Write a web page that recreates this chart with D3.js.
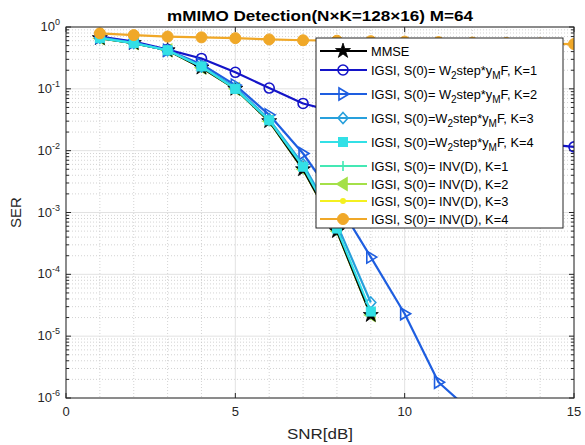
<!DOCTYPE html>
<html><head><meta charset="utf-8">
<script src="https://cdn.jsdelivr.net/npm/d3@7"></script>
<style>body{margin:0;background:#fff;}svg{display:block;font-family:"Liberation Sans",Arial,sans-serif;}</style>
</head><body><svg id="c" width="585" height="445"></svg>
<script>
const snr = [1,2,3,4,5,6,7,8,9,10,11,12,13,14,15];
const mmse   = [0.66,0.55,0.42,0.22,0.100,0.030,0.0050,0.00050,0.000022];
const w2K1   = [0.70,0.58,0.43,0.31,0.185,0.103,0.058,0.042,0.032,0.025,0.020,0.017,0.0145,0.013,0.0115];
const w2K2   = [0.68,0.56,0.42,0.25,0.115,0.038,0.0090,0.0015,0.00019,0.000023,0.0000018,0.00000058];
const w2K3   = [0.67,0.55,0.42,0.23,0.105,0.032,0.0060,0.00065,0.000035];
const w2K4   = [0.66,0.55,0.42,0.23,0.100,0.031,0.0055,0.00055,0.000025];
const invK1  = [0.66,0.55,0.42,0.22,0.100,0.030,0.0050,0.00050,0.000022];
const invK2  = [0.66,0.55,0.42,0.22,0.100,0.030,0.0050,0.00050,0.000022];
const invK3  = [0.66,0.55,0.42,0.22,0.100,0.030,0.0050,0.00050,0.000022];
const invK4  = [0.79,0.74,0.70,0.68,0.66,0.63,0.61,0.60,0.59,0.58,0.57,0.56,0.55,0.54,0.53];
const xTicks = [0,5,10,15];
const yExps = [0,-1,-2,-3,-4,-5,-6];
const titleText = "mMIMO Detection(N\u00d7K=128\u00d716) M=64";

const series = [
  {data:invK1, color:"#44e8b4", marker:"plus"},
  {data:invK2, color:"#a4e048", marker:"ltri"},
  {data:invK3, color:"#f4f020", marker:"dot"},
  {data:mmse, color:"#000000", marker:"star"},
  {data:w2K1, color:"#1414c8", marker:"circle"},
  {data:w2K2, color:"#1e5ee0", marker:"rtri"},
  {data:w2K3, color:"#28a0dc", marker:"diamond"},
  {data:w2K4, color:"#32e0e6", marker:"square"},
  {data:invK4, color:"#f0a828", marker:"fcircle"}
];
const legendItems = [
  {color:"#000000", marker:"star", parts:[["MMSE"]]},
  {color:"#1414c8", marker:"circle", parts:[["IGSI, S(0)= W"],["2","sub"],["step*y"],["M","sub"],["F, K=1"]]},
  {color:"#1e5ee0", marker:"rtri", parts:[["IGSI, S(0)= W"],["2","sub"],["step*y"],["M","sub"],["F, K=2"]]},
  {color:"#28a0dc", marker:"diamond", parts:[["IGSI, S(0)=W"],["2","sub"],["step*y"],["M","sub"],["F, K=3"]]},
  {color:"#32e0e6", marker:"square", parts:[["IGSI, S(0)=W"],["2","sub"],["step*y"],["M","sub"],["F, K=4"]]},
  {color:"#44e8b4", marker:"plus", parts:[["IGSI, S(0)= INV(D), K=1"]]},
  {color:"#a4e048", marker:"ltri", parts:[["IGSI, S(0)= INV(D), K=2"]]},
  {color:"#f4f020", marker:"dot", parts:[["IGSI, S(0)= INV(D), K=3"]]},
  {color:"#f0a828", marker:"fcircle", parts:[["IGSI, S(0)= INV(D), K=4"]]}
];

const svg = d3.select("#c");
const L=66, R=574, T=27, B=398;
const x = d3.scaleLinear().domain([0,15]).range([L,R]);
const y = d3.scaleLog().domain([1e-6,1]).range([B,T]);

// grid
const g = svg.append("g");
for (let v=0; v<=15; v++) {
  if (v%5===0) continue;
  g.append("line").attr("x1",x(v)).attr("x2",x(v)).attr("y1",T).attr("y2",B)
   .attr("stroke","#c8c8c8").attr("stroke-width",0.8).attr("stroke-dasharray","1,2");
}
for (let e=-6; e<0; e++) for (let m=2; m<=9; m++) {
  const yy=y(m*Math.pow(10,e));
  g.append("line").attr("x1",L).attr("x2",R).attr("y1",yy).attr("y2",yy)
   .attr("stroke","#c8c8c8").attr("stroke-width",0.8).attr("stroke-dasharray","1,2");
}
xTicks.forEach(v=>g.append("line").attr("x1",x(v)).attr("x2",x(v)).attr("y1",T).attr("y2",B).attr("stroke","#e2e2e2").attr("stroke-width",1));
yExps.forEach(e=>g.append("line").attr("x1",L).attr("x2",R).attr("y1",y(Math.pow(10,e))).attr("y2",y(Math.pow(10,e))).attr("stroke","#e2e2e2").attr("stroke-width",1));

// axes with inward ticks
const ax = svg.append("g").attr("stroke","#262626").attr("stroke-width",1);
xTicks.forEach(v=>{
  ax.append("line").attr("x1",x(v)).attr("x2",x(v)).attr("y1",B).attr("y2",B-5);
  ax.append("line").attr("x1",x(v)).attr("x2",x(v)).attr("y1",T).attr("y2",T+5);
});
yExps.forEach(e=>{
  const yy=y(Math.pow(10,e));
  ax.append("line").attr("x1",L).attr("x2",L+5).attr("y1",yy).attr("y2",yy);
  ax.append("line").attr("x1",R).attr("x2",R-5).attr("y1",yy).attr("y2",yy);
});
for (let e=-6; e<0; e++) for (let m=2; m<=9; m++) {
  const yy=y(m*Math.pow(10,e));
  ax.append("line").attr("x1",L).attr("x2",L+3).attr("y1",yy).attr("y2",yy);
  ax.append("line").attr("x1",R).attr("x2",R-3).attr("y1",yy).attr("y2",yy);
}

// clip
svg.append("defs").append("clipPath").attr("id","clip").append("rect").attr("x",L).attr("y",T).attr("width",R-L).attr("height",B-T);

function drawMarker(sel, type, cx, cy, color) {
  const s = sel.append("g").attr("transform",`translate(${cx},${cy})`);
  const sw = 1.6;
  if (type==="circle") s.append("circle").attr("r",5).attr("fill","none").attr("stroke",color).attr("stroke-width",sw);
  else if (type==="fcircle") s.append("circle").attr("r",5.5).attr("fill",color).attr("stroke",color).attr("stroke-width",1);
  else if (type==="rtri") s.append("path").attr("d","M6,0L-4,-6L-4,6Z").attr("fill","none").attr("stroke",color).attr("stroke-width",sw);
  else if (type==="ltri") s.append("path").attr("d","M-6,0L4,-6L4,6Z").attr("fill",color).attr("stroke",color).attr("stroke-width",sw);
  else if (type==="diamond") s.append("path").attr("d","M0,-5.5L5,0L0,5.5L-5,0Z").attr("fill","none").attr("stroke",color).attr("stroke-width",sw);
  else if (type==="square") s.append("rect").attr("x",-4.5).attr("y",-4.5).attr("width",9).attr("height",9).attr("fill",color).attr("stroke",color);
  else if (type==="star") s.append("path").attr("d",d3.symbol(d3.symbolStar,70)()).attr("fill",color).attr("stroke",color).attr("stroke-width",0.8);
  else if (type==="plus") s.append("path").attr("d","M-5,0H5M0,-5V5").attr("stroke",color).attr("stroke-width",sw);
  else if (type==="dot") s.append("circle").attr("r",3).attr("fill",color);
}

const plot = svg.append("g").attr("clip-path","url(#clip)");
const line = d3.line().x((d,i)=>x(snr[i])).y(d=>y(d));
series.forEach(sr=>{
  plot.append("path").attr("d",line(sr.data)).attr("fill","none").attr("stroke",sr.color).attr("stroke-width",2.2).attr("stroke-linejoin","round");
  sr.data.forEach((d,i)=>drawMarker(plot, sr.marker, x(snr[i]), y(d), sr.color));
});

// box
svg.append("rect").attr("x",L).attr("y",T).attr("width",R-L).attr("height",B-T).attr("fill","none").attr("stroke","#262626").attr("stroke-width",1);

// tick labels
const tl = svg.append("g").attr("fill","#262626").attr("font-size",13);
xTicks.forEach(v=>tl.append("text").attr("x",x(v)).attr("y",B+18).attr("text-anchor","middle").text(v));
yExps.forEach(e=>{
  const t = tl.append("text").attr("x",L-6).attr("y",y(Math.pow(10,e))+4).attr("text-anchor","end");
  t.append("tspan").text("10");
  t.append("tspan").attr("font-size",9).attr("dy",-6).text(e);
});
svg.append("text").attr("x",(L+R)/2).attr("y",439).attr("text-anchor","middle").attr("font-size",15)
  .attr("textLength",66).attr("lengthAdjust","spacingAndGlyphs").attr("fill","#262626").text("SNR[dB]");
svg.append("text").attr("transform",`translate(21,${(T+B)/2}) rotate(-90)`).attr("text-anchor","middle").attr("font-size",15).attr("fill","#262626").text("SER");
svg.append("text").attr("x",(L+R)/2).attr("y",21).attr("text-anchor","middle").attr("font-size",15).attr("font-weight","bold")
  .attr("textLength",306).attr("lengthAdjust","spacingAndGlyphs").attr("fill","#000").text(titleText);

// legend
const lg = svg.append("g");
lg.append("rect").attr("x",316).attr("y",38).attr("width",247).attr("height",190).attr("fill","#fff").attr("stroke","#262626").attr("stroke-width",1);
const ly = [51,70,94,118,142,166,184,201,219];
legendItems.forEach((it,i)=>{
  const yy = ly[i];
  lg.append("line").attr("x1",320).attr("x2",367).attr("y1",yy).attr("y2",yy).attr("stroke",it.color).attr("stroke-width",2.2);
  drawMarker(lg, it.marker, 343, yy, it.color);
  const t = lg.append("text").attr("x",371).attr("y",yy+4.5).attr("font-size",12.8).attr("fill","#000");
  let shifted=false;
  it.parts.forEach(p=>{
    const ts = t.append("tspan").text(p[0]);
    if (p[1]==="sub") { ts.attr("dy",4).attr("font-size",10); shifted=true; }
    else if (shifted) { ts.attr("dy",-4); shifted=false; }
  });
});
</script></body></html>
